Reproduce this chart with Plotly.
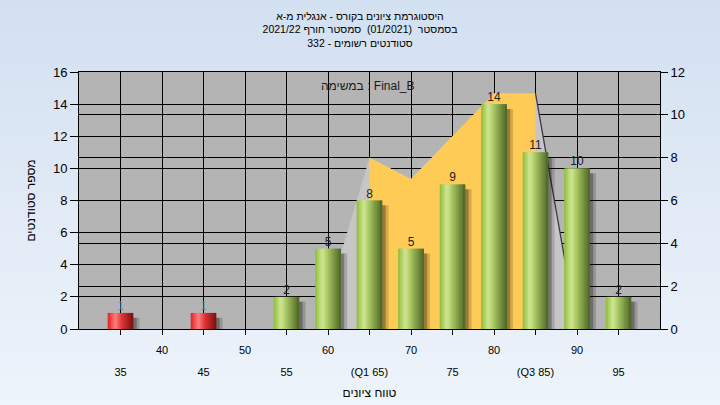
import plotly.graph_objects as go

# ---------------- data ----------------
grade_bins = [35, 40, 45, 50, 55, 60, 65, 70, 75, 80, 85, 90, 95]
student_counts = [1, 0, 1, 0, 2, 5, 8, 5, 9, 14, 11, 10, 2]
tick_labels = ["35", "40", "45", "50", "55", "60", "(Q1 65)", "70", "75", "80", "(Q3 85)", "90", "95"]
pass_grade = 55

curve_x = [60, 65, 70, 75, 80, 85, 90]
curve_vals = [1.5, 8, 7, 9, 11, 11, 0]
q1_grade = 65
q3_grade = 85

title_lines = [
    "היסטוגרמת ציונים בקורס - אנגלית מ-א",
    "בסמסטר  (01/2021)  סמסטר חורף 2021/22",
    "סטודנטים רשומים - 332",
]
task_label = "במשימה : Final_B"
x_title = "טווח ציונים"
y_title = "מספר סטודנטים"

# ---------------- styling helpers ----------------
FONT = "Liberation Sans, Arial, sans-serif"
W, H = 720, 405
ML, MR, MT, MB = 79, 60, 72, 76
PW, PH = W - ML - MR, H - MT - MB

BAR_W = 3.1
N_STRIPS = 14

green_stops = [(0.0, (140, 188, 58)), (0.28, (210, 232, 148)), (0.5, (165, 196, 96)), (1.0, (76, 100, 36))]
red_stops = [(0.0, (224, 30, 30)), (0.3, (255, 128, 128)), (0.55, (222, 52, 52)), (1.0, (122, 16, 16))]


def interp(stops, t):
    for (t0, c0), (t1, c1) in zip(stops[:-1], stops[1:]):
        if t0 <= t <= t1:
            f = (t - t0) / (t1 - t0)
            return "rgb(%d,%d,%d)" % tuple(round(a + (b - a) * f) for a, b in zip(c0, c1))
    return "rgb(%d,%d,%d)" % stops[-1][1]


fig = go.Figure()

# ---------------- area curve (right axis) ----------------
fig.add_scatter(
    x=curve_x, y=curve_vals, mode="lines", fill="tozeroy",
    fillcolor="#c6c6c6", line=dict(width=0, color="#c6c6c6"),
    xaxis="x", yaxis="y", hoverinfo="skip",
)
iqr_x = [x for x in curve_x if q1_grade <= x <= q3_grade]
iqr_y = [v for x, v in zip(curve_x, curve_vals) if q1_grade <= x <= q3_grade]
fig.add_scatter(
    x=iqr_x, y=iqr_y, mode="lines", fill="tozeroy",
    fillcolor="#ffcb57", line=dict(width=0, color="#ffcb57"),
    xaxis="x", yaxis="y", hoverinfo="skip",
)
fig.add_scatter(
    x=curve_x[-2:], y=curve_vals[-2:], mode="lines",
    line=dict(width=1.3, color="#3c3c3c"),
    xaxis="x", yaxis="y", hoverinfo="skip",
)

# ---------------- bars (left axis) ----------------
# drop shadow
for off, alpha in [(0.75, 0.16), (0.4, 0.28)]:
    fig.add_bar(
        x=grade_bins, y=student_counts, base=-0.3,
        width=BAR_W, offset=-BAR_W / 2 + off,
        marker=dict(color="rgba(0,0,0,%s)" % alpha, line=dict(width=0)),
        xaxis="x", yaxis="y2", hoverinfo="skip",
    )

# cylinder shading via vertical strips
sw = BAR_W / N_STRIPS
for i in range(N_STRIPS):
    t = (i + 0.5) / N_STRIPS
    cols = [interp(red_stops if b < pass_grade else green_stops, t) for b in grade_bins]
    fig.add_bar(
        x=grade_bins, y=student_counts,
        width=sw * 1.6 if i < N_STRIPS - 1 else sw,
        offset=-BAR_W / 2 + i * sw,
        marker=dict(color=cols, line=dict(width=0)),
        xaxis="x", yaxis="y2", hoverinfo="skip",
    )

# value labels
fig.add_scatter(
    x=grade_bins, y=student_counts, mode="text",
    text=[str(c) if c > 0 else "" for c in student_counts],
    textposition="top center",
    textfont=dict(size=12, family=FONT,
                  color=["rgba(70,140,190,0.75)" if b < pass_grade else "#222222" for b in grade_bins]),
    xaxis="x", yaxis="y2", hoverinfo="skip",
)

# invisible helper for second label row axis
fig.add_scatter(x=[grade_bins[0]], y=[0], mode="markers", marker=dict(opacity=0),
                xaxis="x2", yaxis="y", hoverinfo="skip")

# ---------------- background ----------------
shapes = []
n_bands = 40
top_c, bot_c = (211, 224, 241), (238, 244, 251)
y_bot = -MB / PH - 0.01
y_top = 1 + MT / PH + 0.01
for i in range(n_bands):
    f = i / (n_bands - 1)
    c = tuple(round(a + (b - a) * f) for a, b in zip(bot_c, top_c))
    y0 = y_bot + (y_top - y_bot) * i / n_bands
    y1 = y_bot + (y_top - y_bot) * (i + 1) / n_bands + 0.002
    shapes.append(dict(type="rect", xref="paper", yref="paper",
                       x0=-ML / PW - 0.01, x1=1 + MR / PW + 0.01, y0=y0, y1=y1,
                       fillcolor="rgb(%d,%d,%d)" % c, line=dict(width=0), layer="below"))
shapes.append(dict(type="rect", xref="paper", yref="paper", x0=0, x1=1, y0=0, y1=1,
                   fillcolor="#b4b4b4", line=dict(width=0), layer="below"))

upper_text = [lab if i % 2 == 1 else "" for i, lab in enumerate(tick_labels)]
lower_vals = [b for i, b in enumerate(grade_bins) if i % 2 == 0]
lower_text = [lab for i, lab in enumerate(tick_labels) if i % 2 == 0]

axis_common = dict(showline=True, linecolor="black", linewidth=1, zeroline=False,
                   gridcolor="black", gridwidth=1, automargin=False, tickcolor="black")

fig.update_layout(
    width=W, height=H,
    margin=dict(l=ML, r=MR, t=MT, b=MB, pad=0),
    paper_bgcolor="#e2ebf6", plot_bgcolor="rgba(0,0,0,0)",
    barmode="overlay", showlegend=False, shapes=shapes,
    font=dict(family=FONT, color="black"),
    title=dict(text="<br>".join(title_lines), x=0.5, xanchor="center", xref="container",
               y=1 - 19.5 / H, yanchor="top", yref="container",
               font=dict(size=10.5, family=FONT, color="black")),
    xaxis=dict(range=[30, 100], tickmode="array", tickvals=grade_bins, ticktext=upper_text,
               ticks="outside", ticklen=5, showgrid=True, mirror=True,
               tickfont=dict(size=11, color="black"), ticklabelstandoff=6, **axis_common),
    xaxis2=dict(range=[30, 100], overlaying="x", anchor="y", side="bottom",
                tickmode="array", tickvals=lower_vals, ticktext=lower_text,
                ticks="", showgrid=False, showline=False, zeroline=False, automargin=False,
                tickfont=dict(size=11, color="black"), ticklabelstandoff=35,
                title=dict(text=x_title, font=dict(size=12, color="black"), standoff=11)),
    yaxis=dict(range=[0, 12], dtick=2, side="right", ticks="outside", ticklen=7,
               showgrid=True, tickfont=dict(size=13, color="black"), **axis_common),
    yaxis2=dict(range=[0, 16], dtick=2, side="left", overlaying="y", anchor="x",
                ticks="outside", ticklen=8, showgrid=True,
                tickfont=dict(size=13, color="black"),
                title=dict(text=y_title, font=dict(size=12, color="black"), standoff=14),
                **axis_common),
    annotations=[dict(text=task_label, xref="paper", yref="paper", x=0.497, y=1 - 14 / PH,
                      xanchor="center", yanchor="middle", showarrow=False,
                      font=dict(size=12, family=FONT, color="#1a1a1a"))],
)

fig.write_html(
    "out.html",
    config={"displayModeBar": False},
    post_script="document.body.style.margin='0px';document.body.style.overflow='hidden';",
)
